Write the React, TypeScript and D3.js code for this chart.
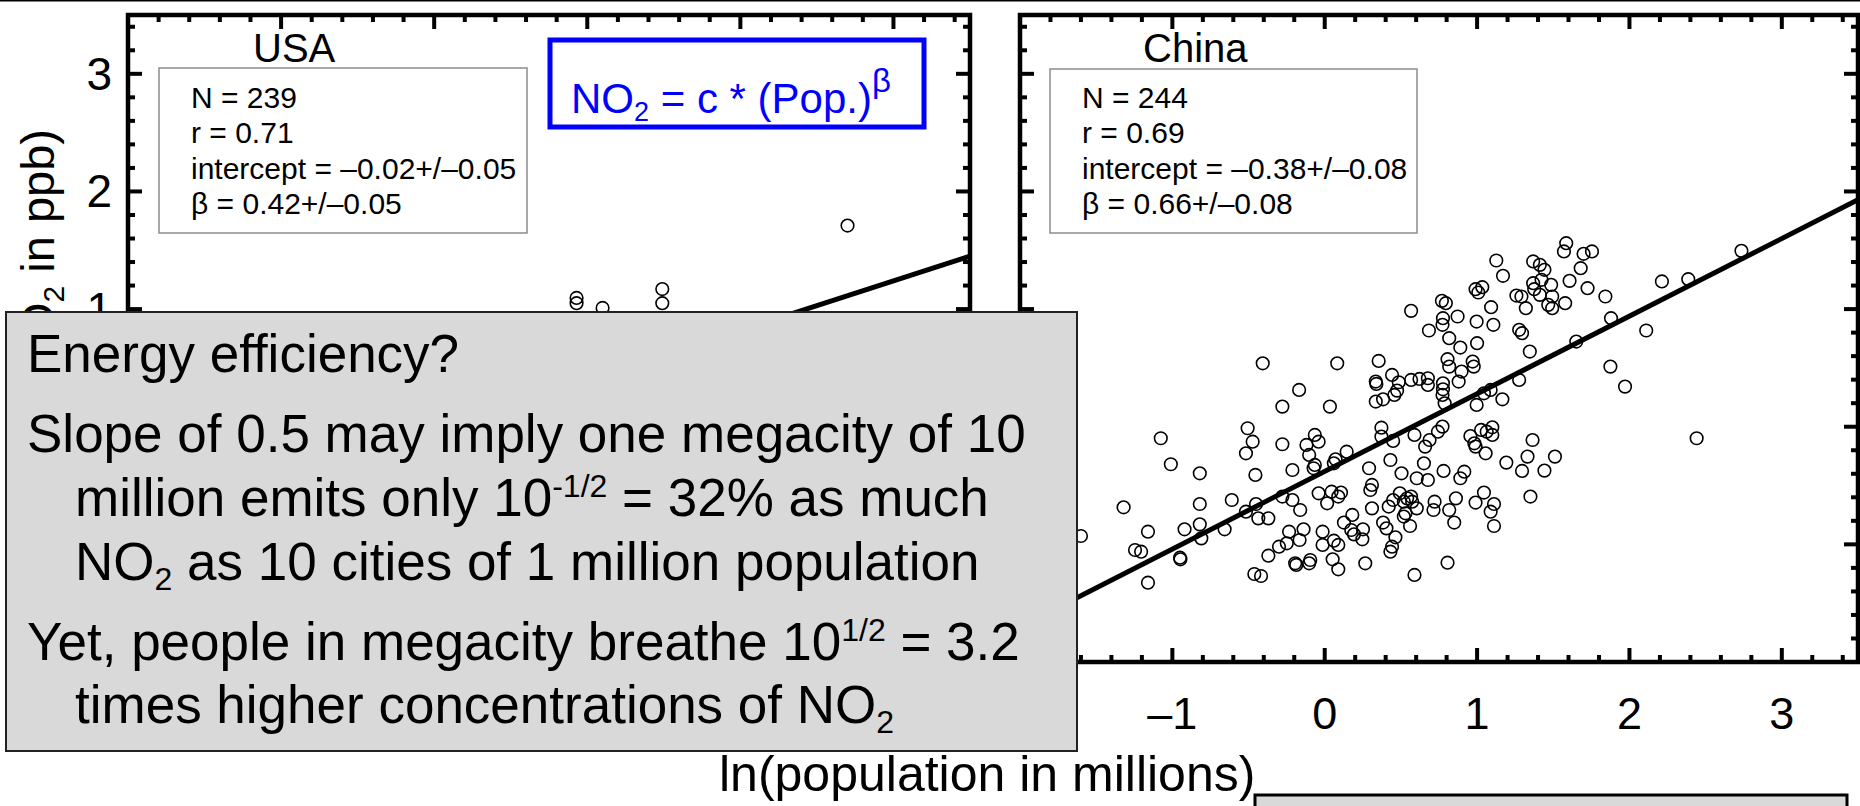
import React from "react";
import * as d3 from "d3";

// ---------- data ----------
const xDomain: [number, number] = [-2, 3.5];
const yDomain: [number, number] = [-2, 3.5];
const majorTicks = [-2, -1, 0, 1, 2, 3];
const xTickLabels = ["–2", "–1", "0", "1", "2", "3"];
const yTickLabels = ["–2", "–1", "0", "1", "2", "3"];

const usaStats = ["N = 239", "r = 0.71", "intercept = –0.02+/–0.05", "β = 0.42+/–0.05"];
const chinaStats = ["N = 244", "r = 0.69", "intercept = –0.38+/–0.08", "β = 0.66+/–0.08"];
const usaFit = [-0.02, 0.42];
const chinaFit = [-0.38, 0.66];

// visible USA points (others hidden behind the text box)
const usaPoints: [number, number][] = [
  [2.7, 1.71], [0.93, 1.05], [0.93, 1.095], [1.1, 1.01], [1.49, 1.17], [1.49, 1.05],
];

const chinaPoints: [number, number][] = [
  [1.585, 1.56], [1.57, 1.49], [1.699, 1.47], [1.754, 1.49], [1.126, 1.413], [1.368, 1.405],
  [1.412, 1.376], [1.442, 1.334], [1.68, 1.348], [1.17, 1.283], [2.735, 1.495], [2.213, 1.235],
  [2.386, 1.254], [1.423, 1.249], [1.368, 1.22], [1.486, 1.206], [1.607, 1.24], [1.725, 1.178],
  [0.99, 1.169], [1.034, 1.186], [1.008, 1.141], [1.375, 1.169], [1.258, 1.115], [1.291, 1.107],
  [1.412, 1.121], [1.493, 1.107], [1.842, 1.107], [1.578, 1.05], [1.467, 1.036], [1.493, 1.008],
  [0.769, 1.07], [0.795, 1.05], [1.092, 1.016], [1.32, 1.008], [0.567, 0.985], [0.872, 0.937],
  [1.879, 0.923], [0.776, 0.923], [0.773, 0.866], [0.997, 0.894], [1.107, 0.866], [0.684, 0.818],
  [1.276, 0.824], [1.295, 0.795], [2.11, 0.818], [0.817, 0.753], [1.651, 0.724], [1.0, 0.71],
  [0.89, 0.673], [1.346, 0.639],
  [-0.407, 0.539], [0.082, 0.539], [0.354, 0.559], [0.806, 0.574], [0.817, 0.511], [0.971, 0.554],
  [0.978, 0.511], [1.875, 0.511], [0.442, 0.44], [0.335, 0.384], [0.339, 0.364], [0.486, 0.378],
  [0.567, 0.398], [0.622, 0.406], [0.677, 0.412], [0.677, 0.355], [0.776, 0.369], [0.776, 0.318],
  [0.773, 0.27], [0.898, 0.469], [0.879, 0.384], [1.276, 0.398], [1.971, 0.341], [-0.168, 0.313],
  [0.475, 0.307], [0.457, 0.27], [0.383, 0.233], [0.335, 0.214], [1.045, 0.284], [1.089, 0.313],
  [1.166, 0.233], [0.997, 0.185], [0.787, 0.199], [-0.278, 0.171], [0.034, 0.171],
  [-1.076, -0.098], [-0.506, -0.013], [-0.473, -0.127], [-0.517, -0.226], [-0.278, -0.149],
  [-0.065, -0.07], [-0.04, -0.127], [-0.12, -0.155], [-0.102, -0.24], [0.144, -0.212],
  [0.071, -0.277], [0.06, -0.311], [-0.212, -0.368], [-0.065, -0.325], [-0.073, -0.353],
  [-0.455, -0.41], [-1.01, -0.319], [-0.82, -0.396], [0.372, -0.008], [0.372, -0.084],
  [0.449, -0.121], [0.589, -0.07], [0.688, -0.113], [0.743, -0.042], [0.773, 0.001],
  [0.659, -0.169], [0.651, -0.311], [0.431, -0.283], [0.291, -0.353], [0.504, -0.396],
  [0.604, -0.438], [0.677, -0.453], [0.78, -0.376], [0.89, -0.438], [0.916, -0.382],
  [0.956, -0.079], [0.982, -0.141], [0.99, -0.169], [1.026, -0.027], [1.063, -0.042],
  [1.1, -0.005], [1.1, -0.07], [1.056, -0.226], [1.192, -0.305], [1.295, -0.376],
  [1.331, -0.254], [1.364, -0.113], [1.442, -0.373], [1.511, -0.254], [2.441, -0.098],
  [0.31, -0.495], [0.299, -0.538], [-0.04, -0.566], [0.045, -0.552], [0.107, -0.56],
  [0.089, -0.594], [0.016, -0.651], [-0.278, -0.594], [-0.212, -0.623], [-0.161, -0.708],
  [-0.61, -0.623], [-0.82, -0.657], [-0.451, -0.657], [-0.517, -0.722], [-0.436, -0.779],
  [-0.37, -0.779], [-1.32, -0.685], [-0.92, -0.872], [-0.82, -0.83], [-0.81, -0.949],
  [-0.657, -0.872], [-1.16, -0.892], [-1.6, -0.929], [-1.245, -1.048], [-1.205, -1.062],
  [-0.95, -1.113], [-0.947, -1.127], [-1.16, -1.326], [-0.37, -1.096], [-0.3, -1.02],
  [-0.249, -0.991], [-0.234, -0.892], [-0.165, -0.963], [-0.139, -0.872], [-0.014, -0.892],
  [-0.014, -1.005], [0.06, -0.969], [0.089, -1.005], [0.126, -0.815], [0.181, -0.75],
  [0.174, -0.878], [0.192, -0.915], [0.251, -0.872], [0.247, -0.957], [0.31, -0.694],
  [0.42, -0.679], [0.449, -0.623], [0.493, -0.566], [0.519, -0.637], [0.541, -0.609],
  [0.567, -0.594], [0.53, -0.736], [0.519, -0.764], [0.574, -0.637], [0.604, -0.694],
  [0.721, -0.637], [0.714, -0.708], [0.817, -0.708], [0.861, -0.609], [0.85, -0.815],
  [0.56, -0.844], [0.383, -0.815], [0.405, -0.864], [0.464, -0.94], [0.442, -1.02],
  [0.431, -1.062], [-0.187, -1.175], [-0.194, -1.161], [-0.095, -1.133], [-0.102, -1.161],
  [0.052, -1.127], [0.089, -1.212], [0.266, -1.161], [-0.462, -1.252], [-0.418, -1.269],
  [0.589, -1.26], [0.806, -1.156], [0.99, -0.645], [1.045, -0.56], [1.089, -0.722],
  [1.111, -0.657], [1.111, -0.844], [1.35, -0.594],
];

const FONT = "'Liberation Sans', Arial, Helvetica, sans-serif";

type PanelProps = {
  id: string;
  xRange: [number, number];
  title: string;
  titleX: number;
  stats: string[];
  statBox: [number, number, number, number];
  points: [number, number][];
  fit: number[];
  yLabels: boolean;
  xLabels: boolean;
};

const yScale = d3.scaleLinear().domain(yDomain).range([662, 15]);

function Panel(p: PanelProps) {
  const xs = d3.scaleLinear().domain(xDomain).range(p.xRange);
  const [x0, x1] = p.xRange;
  const y0 = yScale(yDomain[0]);
  const y1 = yScale(yDomain[1]);
  const minor = d3.range(-2, 3.5 + 1e-9, 0.2).map((v) => +v.toFixed(2));
  const isMajor = (v: number) => Math.abs(v - Math.round(v)) < 1e-6;
  const ticks: JSX.Element[] = [];
  minor.forEach((v, i) => {
    const L = isMajor(v) ? 14 : 7;
    const px = xs(v);
    const py = yScale(v);
    ticks.push(<line key={"b" + i} x1={px} x2={px} y1={y0} y2={y0 - L} />);
    ticks.push(<line key={"t" + i} x1={px} x2={px} y1={y1} y2={y1 + L} />);
    ticks.push(<line key={"l" + i} x1={x0} x2={x0 + L} y1={py} y2={py} />);
    ticks.push(<line key={"r" + i} x1={x1} x2={x1 - L} y1={py} y2={py} />);
  });
  const line = d3
    .line<number>()
    .x((d) => xs(d))
    .y((d) => yScale(p.fit[0] + p.fit[1] * d));
  const [bx, by, bw, bh] = p.statBox;
  return (
    <g>
      <defs>
        <clipPath id={"clip-" + p.id}>
          <rect x={x0} y={y1} width={x1 - x0} height={y0 - y1} />
        </clipPath>
      </defs>
      <g clipPath={`url(#clip-${p.id})`}>
        <path d={line(xDomain as number[]) || ""} stroke="#000" strokeWidth={5} fill="none" />
        {p.points.map((d, i) => (
          <circle key={i} cx={xs(d[0])} cy={yScale(d[1])} r={6.3} fill="none" stroke="#000" strokeWidth={1.6} />
        ))}
      </g>
      <g stroke="#000" strokeWidth={4}>{ticks}</g>
      <rect x={x0} y={y1} width={x1 - x0} height={y0 - y1} fill="none" stroke="#000" strokeWidth={4.5} />
      <text x={p.titleX} y={62} fontSize={40} fontFamily={FONT}>{p.title}</text>
      <rect x={bx} y={by} width={bw} height={bh} fill="#fff" stroke="#8c8c8c" strokeWidth={1.5} />
      {p.stats.map((s, i) => (
        <text key={i} x={bx + 32} y={108 + i * 35.3} fontSize={30} fontFamily={FONT}>{s}</text>
      ))}
      {p.yLabels &&
        majorTicks.filter((v) => v >= 1).map((v) => (
          <text key={"yl" + v} x={x0 - 16} y={yScale(v) + 16} fontSize={46} textAnchor="end" fontFamily={FONT}>
            {yTickLabels[majorTicks.indexOf(v)]}
          </text>
        ))}
      {p.xLabels &&
        majorTicks.filter((v) => v >= -1).map((v) => (
          <text key={"xl" + v} x={xs(v)} y={729} fontSize={45} textAnchor="middle" fontFamily={FONT}>
            {xTickLabels[majorTicks.indexOf(v)]}
          </text>
        ))}
    </g>
  );
}

export default function App() {
  const tx = { fontFamily: FONT, fontSize: 53 };
  return (
    <div style={{ position: "absolute", left: 0, top: 0 }}>
      <svg width={1860} height={806} style={{ display: "block", background: "#fff" }}>
        <line x1={0} x2={1860} y1={0.5} y2={0.5} stroke="#000" strokeWidth={2} />
        <Panel
          id="usa"
          xRange={[128, 970]}
          title="USA"
          titleX={253}
          stats={usaStats}
          statBox={[159, 68, 368, 165]}
          points={usaPoints}
          fit={usaFit}
          yLabels={true}
          xLabels={false}
        />
        <Panel
          id="china"
          xRange={[1020, 1858]}
          title="China"
          titleX={1143}
          stats={chinaStats}
          statBox={[1050, 69, 367, 164]}
          points={chinaPoints}
          fit={chinaFit}
          yLabels={false}
          xLabels={true}
        />
        {/* formula box */}
        <rect x={550} y={40} width={374} height={87} fill="none" stroke="#0000ff" strokeWidth={5} />
        <text x={571} y={113} fontSize={42} fill="#0000ff" fontFamily={FONT}>
          NO<tspan fontSize={27} dy={8}>2</tspan>
          <tspan dy={-8}> = c * (Pop.)</tspan>
          <tspan fontSize={33} dy={-21}>β</tspan>
        </text>
        {/* axis titles */}
        <text transform="translate(54,129) rotate(-90)" fontSize={47} textAnchor="end" fontFamily={FONT}>
          ln(NO<tspan fontSize={30} dy={10}>2</tspan>
          <tspan dy={-10}> in ppb)</tspan>
        </text>
        <text x={719} y={791} fontSize={50} fontFamily={FONT}>ln(population in millions)</text>
        {/* overlay text box */}
        <rect x={6} y={312} width={1071} height={439} fill="#d9d9d9" stroke="#222" strokeWidth={2} />
        <text x={27} y={372} {...tx}>Energy efficiency?</text>
        <text x={27} y={452} {...tx}>Slope of 0.5 may imply one megacity of 10</text>
        <text x={75} y={516} {...tx}>
          million emits only 10<tspan fontSize={32} dy={-19}>-1/2</tspan>
          <tspan dy={19}> = 32% as much</tspan>
        </text>
        <text x={75} y={580} {...tx}>
          NO<tspan fontSize={32} dy={10}>2</tspan>
          <tspan dy={-10}> as 10 cities of 1 million population</tspan>
        </text>
        <text x={27} y={660} {...tx}>
          Yet, people in megacity breathe 10<tspan fontSize={32} dy={-19}>1/2</tspan>
          <tspan dy={19}> = 3.2</tspan>
        </text>
        <text x={75} y={723} {...tx}>
          times higher concentrations of NO<tspan fontSize={32} dy={10}>2</tspan>
        </text>
        {/* second box, bottom right */}
        <rect x={1255} y={795} width={592} height={40} fill="#d9d9d9" stroke="#000" strokeWidth={3} />
      </svg>
    </div>
  );
}
